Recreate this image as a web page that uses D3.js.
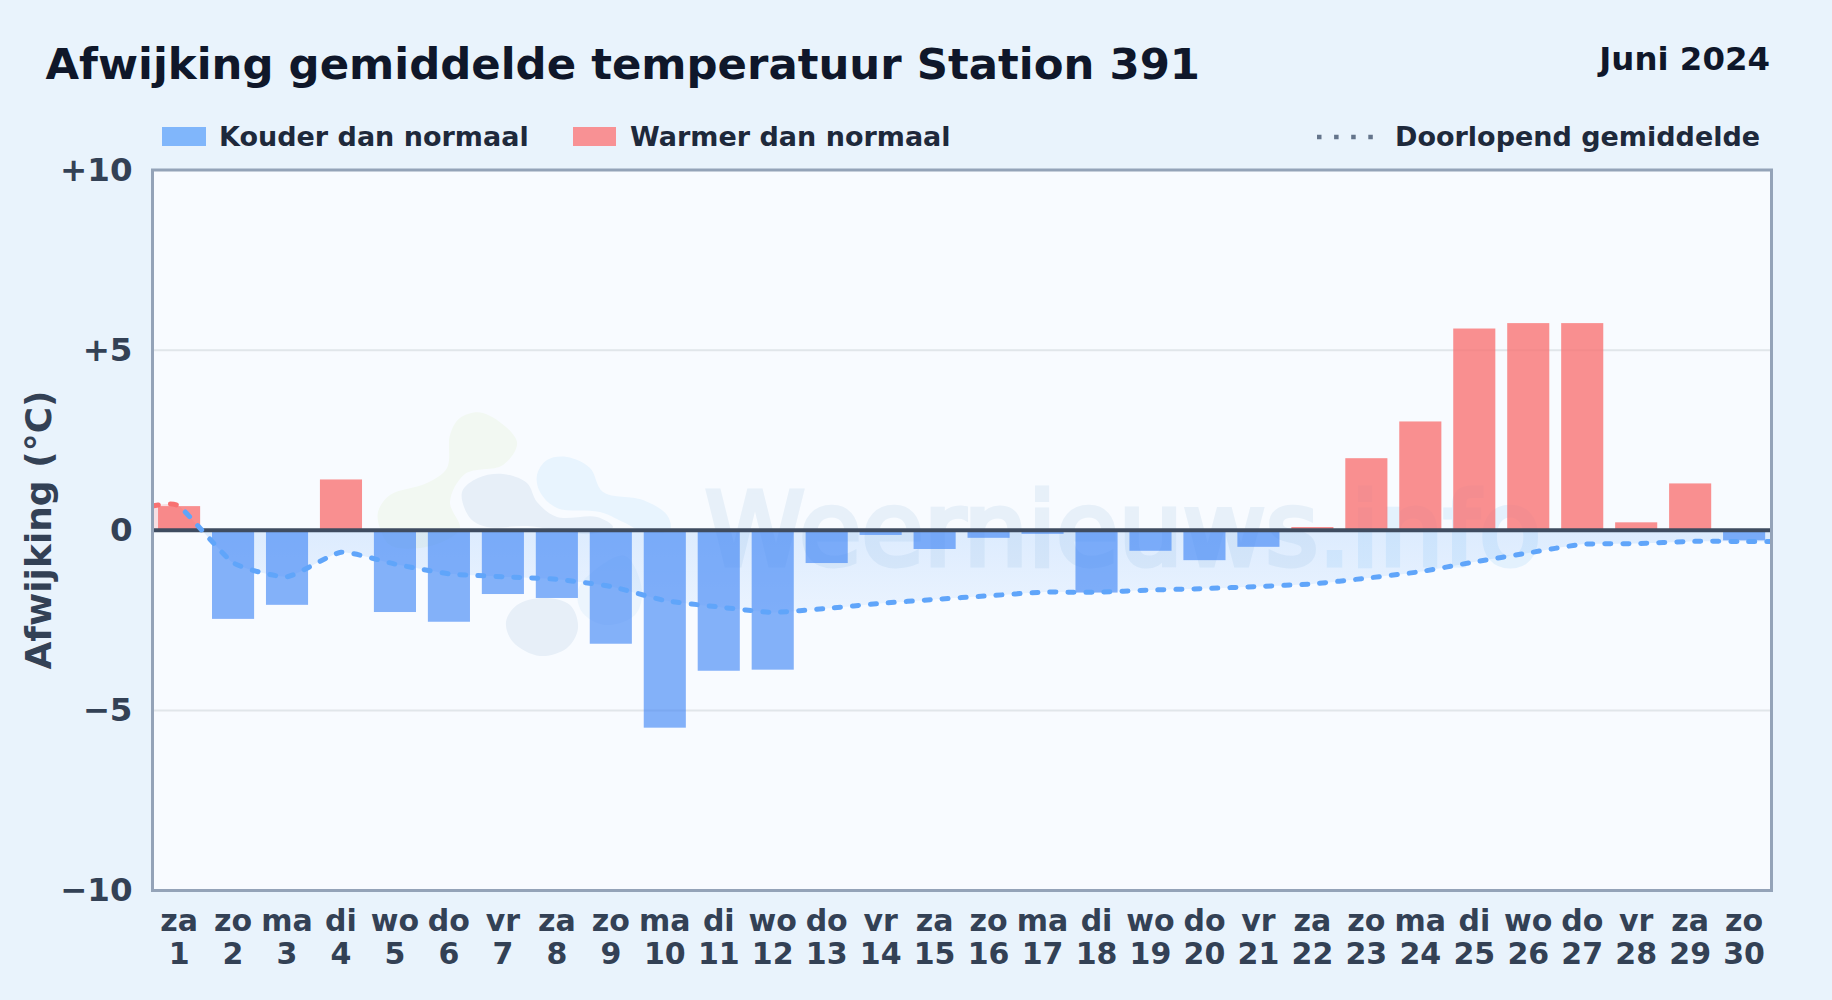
<!DOCTYPE html>
<html>
<head>
<meta charset="utf-8">
<script src="https://cdn.jsdelivr.net/npm/d3@7"></script>
<style>
  html, body { margin: 0; padding: 0; background: #e9f3fc; }
  svg { display: block; }
  text { font-family: "DejaVu Sans", sans-serif; font-weight: bold; }
  .domain { display: none; }
  .tick line { display: none; }
</style>
</head>
<body>
<svg width="1832" height="1000"></svg>
<script>
// waarden
const dagen = ["za","zo","ma","di","wo","do","vr","za","zo","ma","di","wo","do","vr","za","zo","ma","di","wo","do","vr","za","zo","ma","di","wo","do","vr","za","zo"];
const dagNummers = [1,2,3,4,5,6,7,8,9,10,11,12,13,14,15,16,17,18,19,20,21,22,23,24,25,26,27,28,29,30];
const afwijking = [0.67,-2.46,-2.07,1.41,-2.27,-2.54,-1.77,-1.88,-3.15,-5.48,-3.90,-3.87,-0.91,-0.13,-0.52,-0.21,-0.10,-1.73,-0.57,-0.83,-0.46,0.09,2.00,3.02,5.60,5.75,5.75,0.22,1.30,-0.28];
const gemiddelde = [0.67,-0.90,-1.29,-0.61,-0.94,-1.21,-1.29,-1.36,-1.56,-1.95,-2.13,-2.28,-2.17,-2.03,-1.92,-1.82,-1.72,-1.72,-1.66,-1.62,-1.56,-1.49,-1.33,-1.15,-0.88,-0.63,-0.39,-0.37,-0.31,-0.31];
const yTicks = [-10,-5,0,5,10];

// logo van het watermerk (pixels)
const logoGroen = [[483,413],[517,442],[503,465],[465,474],[450,502],[460,528],[450,538],[420,548],[390,545],[380,528],[378,512],[390,495],[427,483],[447,468],[450,435],[460,418]];
const logoGrijs = [[503,474],[527,483],[537,502],[557,517],[597,517],[613,527],[590,534],[527,526],[487,527],[470,518],[462,492],[478,478]];
const logoBlauw = [[567,457],[590,468],[603,492],[643,500],[667,515],[670,530],[645,532],[623,522],[600,512],[557,508],[540,492],[537,475],[547,460]];
const logoOnder = [[543,598],[570,605],[578,628],[567,648],[540,656],[513,642],[506,622],[517,605]];
const logoLicht = [[625,556],[642,590],[635,615],[605,625],[582,612],[578,590],[595,570]];

const plot = { left: 152.5, right: 1771.5, top: 170, bottom: 890.5 };

const svg = d3.select("svg");
const defs = svg.append("defs");

const x = d3.scaleBand().domain(dagNummers).range([plot.left - 0.4, plot.right - 0.4]).paddingInner(0.22).paddingOuter(0.11);
const y = d3.scaleLinear().domain([-10, 10]).range([plot.bottom, plot.top]);
const midden = d => x(d) + x.bandwidth() / 2;

defs.append("clipPath").attr("id", "plotClip").append("rect")
    .attr("x", plot.left).attr("y", plot.top)
    .attr("width", plot.right - plot.left).attr("height", plot.bottom - plot.top);

const fillGrad = defs.append("linearGradient").attr("id", "fillBlauw")
    .attr("gradientUnits", "userSpaceOnUse")
    .attr("x1", 0).attr("x2", 0).attr("y1", y(0)).attr("y2", y(-2.6));
fillGrad.append("stop").attr("offset", 0).attr("stop-color", "#60a5fa").attr("stop-opacity", 0.18);
fillGrad.append("stop").attr("offset", 1).attr("stop-color", "#60a5fa").attr("stop-opacity", 0.08);

// titel
svg.append("text").attr("x", 45.5).attr("y", 79).attr("font-size", 43.4).attr("fill", "#0f172a")
    .text("Afwijking gemiddelde temperatuur Station 391");
svg.append("text").attr("x", 1770).attr("y", 70).attr("font-size", 32.4).attr("text-anchor", "end").attr("fill", "#0f172a")
    .text("Juni 2024");

// legenda
const legenda = svg.append("g");
legenda.append("rect").attr("x", 162).attr("y", 127).attr("width", 44).attr("height", 19).attr("fill", "#80b6fb");
legenda.append("text").attr("x", 219).attr("y", 146).attr("font-size", 27).attr("fill", "#1e293b").text("Kouder dan normaal");
legenda.append("rect").attr("x", 573).attr("y", 127).attr("width", 43).attr("height", 19).attr("fill", "#f89194");
legenda.append("text").attr("x", 630).attr("y", 146).attr("font-size", 27).attr("fill", "#1e293b").text("Warmer dan normaal");
legenda.append("line").attr("x1", 1317).attr("x2", 1374).attr("y1", 137).attr("y2", 137)
    .attr("stroke", "#64748b").attr("stroke-width", 4.5).attr("stroke-dasharray", "4.5 12.6");
legenda.append("text").attr("x", 1395).attr("y", 146).attr("font-size", 27).attr("fill", "#1e293b").text("Doorlopend gemiddelde");

// plotvlak
svg.append("rect").attr("x", plot.left).attr("y", plot.top)
    .attr("width", plot.right - plot.left).attr("height", plot.bottom - plot.top)
    .attr("fill", "#f8fbff");

const inhoud = svg.append("g").attr("clip-path", "url(#plotClip)");

// watermerk
const wm = inhoud.append("g");
const blob = d3.line().curve(d3.curveCatmullRomClosed);
wm.append("path").attr("fill", "#f2f8f2").attr("d", blob(logoGroen));
wm.append("path").attr("fill", "#e7eff8").attr("d", blob(logoGrijs));
wm.append("path").attr("fill", "#e8f4fe").attr("d", blob(logoBlauw));
wm.append("path").attr("fill", "#e7eff8").attr("d", blob(logoOnder));
wm.append("path").attr("fill", "#ecf5fd").attr("d", blob(logoLicht));
const wmTekst = wm.append("text").attr("x", 705).attr("y", 565).attr("font-size", 101)
    .attr("textLength", 836).attr("lengthAdjust", "spacing")
    .attr("stroke-width", 5).style("font-weight", "normal");
wmTekst.append("tspan").attr("fill", "#e7f0f9").attr("stroke", "#e7f0f9").text("Weernieuws");
wmTekst.append("tspan").attr("fill", "#e3f1fd").attr("stroke", "#e3f1fd").text(".info");

// raster
inhoud.append("g").selectAll("line").data([5, -5]).enter().append("line")
    .attr("x1", plot.left).attr("x2", plot.right)
    .attr("y1", d => y(d)).attr("y2", d => y(d))
    .attr("stroke", "#e1e6ea").attr("stroke-width", 2);

// doorlopend gemiddelde loopt door tot aan de randen van het plotvlak
const lijnPunten = [[plot.left, gemiddelde[0]]]
    .concat(gemiddelde.map((v, i) => [midden(dagNummers[i]), v]))
    .concat([[plot.right, gemiddelde[gemiddelde.length - 1]]]);

const curve = d3.curveCardinal.tension(0.5);
const area = d3.area().x(d => d[0]).y0(y(0)).y1(d => y(d[1])).curve(curve);
const lijn = d3.line().x(d => d[0]).y(d => y(d[1])).curve(curve);

// vulling, rood boven nul en blauw onder nul
defs.append("clipPath").attr("id", "bovenNul").append("rect")
    .attr("x", plot.left).attr("y", plot.top).attr("width", plot.right - plot.left).attr("height", y(0) - plot.top);
defs.append("clipPath").attr("id", "onderNul").append("rect")
    .attr("x", plot.left).attr("y", y(0)).attr("width", plot.right - plot.left).attr("height", plot.bottom - y(0));
inhoud.append("g").attr("clip-path", "url(#bovenNul)").append("path").datum(lijnPunten)
    .attr("d", area).attr("fill", "#ef4444").attr("fill-opacity", 0.15);
inhoud.append("g").attr("clip-path", "url(#onderNul)").append("path").datum(lijnPunten)
    .attr("d", area).attr("fill", "url(#fillBlauw)");

// balken
inhoud.append("g").selectAll("rect").data(afwijking).enter().append("rect")
    .attr("x", (d, i) => x(dagNummers[i]))
    .attr("width", x.bandwidth())
    .attr("y", d => y(Math.max(d, 0)))
    .attr("height", d => Math.abs(y(d) - y(0)))
    .attr("fill", d => d < 0 ? "#3b82f6" : "#f87171")
    .attr("fill-opacity", d => d < 0 ? 0.62 : 0.78);

// nullijn
inhoud.append("line").attr("x1", plot.left).attr("x2", plot.right).attr("y1", y(0)).attr("y2", y(0))
    .attr("stroke", "#3f4c60").attr("stroke-width", 4);

// lijn: tot dag 1 rood, daarna blauw
const dag1 = midden(dagNummers[0]);
defs.append("clipPath").attr("id", "lijnRood").append("rect")
    .attr("x", plot.left).attr("y", plot.top).attr("width", dag1 - plot.left).attr("height", plot.bottom - plot.top);
defs.append("clipPath").attr("id", "lijnBlauw").append("rect")
    .attr("x", dag1).attr("y", plot.top).attr("width", plot.right - dag1).attr("height", plot.bottom - plot.top);
[["lijnRood", "#f87171"], ["lijnBlauw", "#60a5fa"]].forEach(([clip, kleur]) => {
    inhoud.append("g").attr("clip-path", `url(#${clip})`).append("path").datum(lijnPunten).attr("d", lijn)
        .attr("fill", "none").attr("stroke", kleur).attr("stroke-width", 5)
        .attr("stroke-linecap", "round").attr("stroke-dasharray", "6 12");
});

// rand
svg.append("rect").attr("x", plot.left).attr("y", plot.top)
    .attr("width", plot.right - plot.left).attr("height", plot.bottom - plot.top)
    .attr("fill", "none").attr("stroke", "#94a3b8").attr("stroke-width", 3);

// assen
const yAxis = d3.axisLeft(y).tickValues(yTicks).tickSize(0).tickPadding(20)
    .tickFormat(d => d > 0 ? "+" + d : d < 0 ? "\u2212" + Math.abs(d) : "0");
svg.append("g").attr("transform", `translate(${plot.left},0)`).call(yAxis)
    .selectAll("text").attr("font-size", 32.5).attr("fill", "#334155").style("font-family", "DejaVu Sans");

const xAxis = d3.axisBottom(x).tickSize(0).tickFormat("");
const xg = svg.append("g").attr("transform", `translate(0,${plot.bottom})`).call(xAxis);
xg.selectAll(".tick text").each(function(d, i) {
    const t = d3.select(this).attr("y", null).attr("dy", null).attr("font-size", 30).attr("fill", "#334155");
    t.append("tspan").attr("x", 0).attr("y", 40).text(dagen[i]);
    t.append("tspan").attr("x", 0).attr("y", 73.5).text(dagNummers[i]);
});

svg.append("text").attr("transform", `translate(51,530) rotate(-90)`).attr("text-anchor", "middle")
    .attr("font-size", 36).attr("fill", "#334155").text("Afwijking (°C)");
</script>
</body>
</html>
